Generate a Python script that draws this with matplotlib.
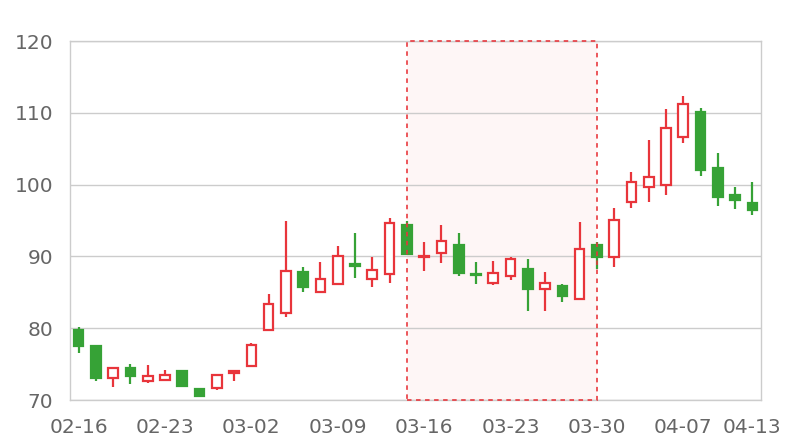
import matplotlib
matplotlib.use("Agg")
import matplotlib.pyplot as plt
from matplotlib.patches import Rectangle
import numpy as np

dates = ["02-16", "02-17", "02-18", "02-19", "02-20",
         "02-23", "02-24", "02-25", "02-26", "02-27",
         "03-02", "03-03", "03-04", "03-05", "03-06",
         "03-09", "03-10", "03-11", "03-12", "03-13",
         "03-16", "03-17", "03-18", "03-19", "03-20",
         "03-23", "03-24", "03-25", "03-26", "03-27",
         "03-30", "03-31", "04-01", "04-02", "04-03",
         "04-07", "04-08", "04-09", "04-10", "04-13"]
open_ = [79.7, 77.5, 73.1, 74.5, 72.6, 72.8, 74.0, 71.6, 71.7, 73.7,
         74.8, 79.7, 82.1, 87.8, 85.1, 86.1, 88.9, 86.9, 87.6, 94.4,
         89.9, 90.5, 91.6, 87.6, 86.3, 87.3, 88.2, 85.4, 85.9, 84.0,
         91.6, 89.9, 97.6, 99.6, 99.9, 106.6, 110.1, 102.3, 98.6, 97.4]
close = [77.5, 73.0, 74.5, 73.4, 73.4, 73.5, 72.0, 70.5, 73.5, 74.0,
         77.7, 83.4, 88.0, 85.7, 86.9, 90.0, 88.7, 88.1, 94.7, 90.4,
         90.1, 92.2, 87.7, 87.4, 87.7, 89.7, 85.5, 86.3, 84.5, 91.0,
         89.9, 95.0, 100.4, 101.0, 107.9, 111.2, 102.1, 98.3, 97.8, 96.5]
low = [76.6, 72.7, 71.8, 72.2, 72.4, 72.8, 71.8, 70.4, 71.4, 72.7,
       74.8, 79.7, 81.5, 85.1, 85.1, 86.1, 87.0, 85.8, 86.3, 90.3,
       87.9, 89.1, 87.3, 86.1, 86.0, 86.7, 82.4, 82.4, 83.7, 84.0,
       88.2, 88.5, 96.7, 97.6, 98.5, 105.8, 101.2, 97.0, 96.6, 95.7]
high = [80.2, 77.5, 74.5, 75.0, 74.9, 74.2, 74.0, 71.7, 73.5, 74.0,
        78.0, 84.7, 95.0, 88.5, 89.2, 91.5, 93.3, 89.9, 95.4, 94.9,
        92.0, 94.4, 93.3, 89.2, 89.3, 89.9, 89.7, 87.8, 86.2, 94.8,
        92.0, 96.8, 101.8, 106.2, 110.5, 112.3, 110.6, 104.4, 99.6, 100.4]
area_start = "03-13"
area_end = "03-30"
label_every = 5
y_ticks = [70, 80, 90, 100, 110, 120]

RED = "#e8353b"
GREEN = "#36a236"

fig = plt.figure(figsize=(8, 4.4), dpi=100)
ax = fig.add_axes([70/800, 1-400/440, 691/800, 359/440])

x = np.arange(len(dates))
o = np.array(open_); c = np.array(close)
lo = np.array(low); hi = np.array(high)
up = c >= o

# mark area
xs = dates.index(area_start); xe = dates.index(area_end)
ax.add_patch(Rectangle((xs, 70), xe - xs, 50, facecolor=(0.91, 0.2, 0.23, 0.045),
                       edgecolor="none", zorder=0.5))
ax.add_patch(Rectangle((xs, 70), xe - xs, 50, facecolor="none",
                       edgecolor=RED, linewidth=1.3, linestyle=(0, (2.5, 2.5)),
                       zorder=3, clip_on=False, alpha=0.9))

colors = [RED if u else GREEN for u in up]
ax.vlines(x, lo, hi, colors=colors, linewidth=1.6, zorder=2)
body_lo = np.minimum(o, c); body_h = np.abs(c - o)
face = ["white" if u else GREEN for u in up]
ax.bar(x, body_h, bottom=body_lo, width=0.56, facecolor=face, edgecolor=colors,
       linewidth=1.6, zorder=2.5)

ax.set_xlim(-0.5, len(dates) - 0.5)
ax.set_ylim(70, 120)
ax.set_yticks(y_ticks)
ticks = list(range(0, len(dates), label_every))
if ticks[-1] != len(dates) - 1:
    ticks.append(len(dates) - 1)
ax.set_xticks(ticks)
ax.set_xticklabels([dates[i] for i in ticks])
ax.tick_params(axis="both", length=0, labelsize=14.5, labelcolor="#666666")
ax.tick_params(axis="y", pad=12)
ax.tick_params(axis="x", pad=13)
ax.grid(axis="y", color="#cccccc", linewidth=1, zorder=0)
ax.set_axisbelow(True)
for s in ax.spines.values():
    s.set_color("#cccccc")
    s.set_linewidth(1)

fig.savefig("out.png", dpi=100)
